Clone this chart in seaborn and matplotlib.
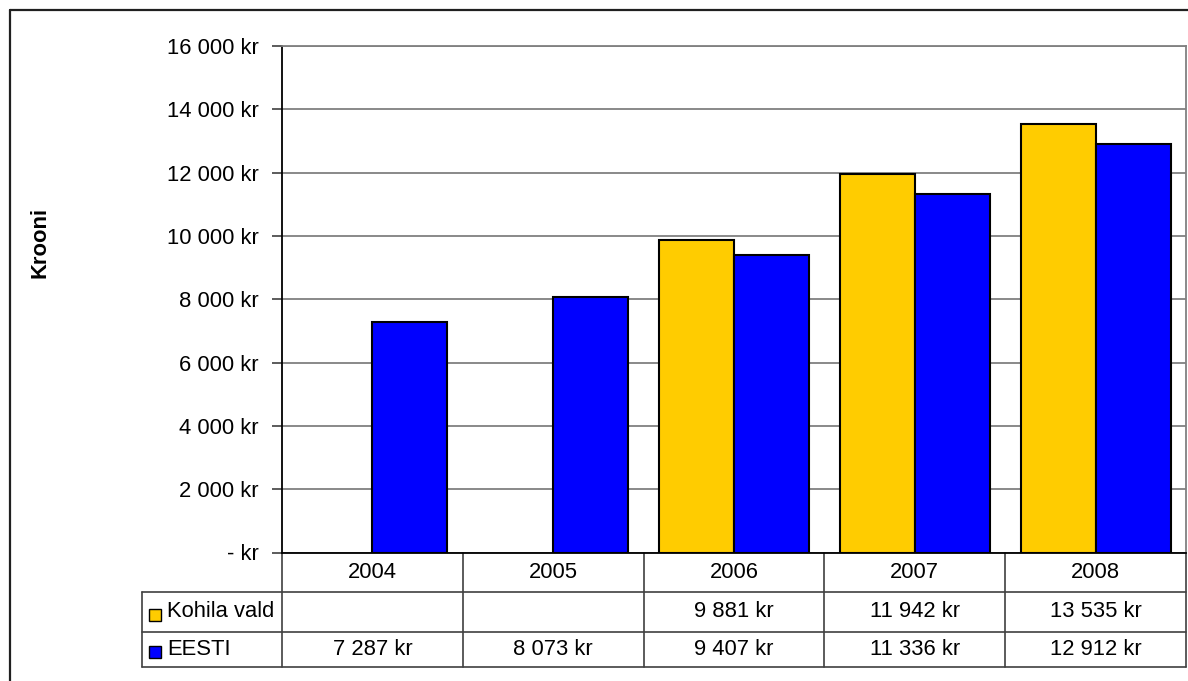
import numpy as np
import pandas as pd
import matplotlib
matplotlib.use('Agg')
import matplotlib.pyplot as plt
from matplotlib.lines import Line2D
from matplotlib.patches import Rectangle
from matplotlib.ticker import FuncFormatter
import seaborn as sns

# andmed
years = ['2004', '2005', '2006', '2007', '2008']
series_names = ['Kohila vald', 'EESTI']
kohila = [np.nan, np.nan, 9881, 11942, 13535]
eesti = [7287, 8073, 9407, 11336, 12912]
colors = ['#FFCC00', '#0000FF']
y_ticks = [0, 2000, 4000, 6000, 8000, 10000, 12000, 14000, 16000]

W, H = 1188, 681


def kr(v):
    if v == 0:
        return '- kr'
    return f"{int(round(v)):,}".replace(',', ' ') + ' kr'


def fx(x):
    return x / W


def fy(y):
    return 1 - y / H


sns.set_style('white')
plt.rcParams['font.family'] = ['Liberation Sans', 'DejaVu Sans']
plt.rcParams['text.color'] = 'black'
plt.rcParams['ytick.labelcolor'] = 'black'
FS = 15.8

df = pd.DataFrame({
    'year': years * 2,
    'value': kohila + eesti,
    'series': [series_names[0]] * 5 + [series_names[1]] * 5,
})

fig = plt.figure(figsize=(W / 100, H / 100), dpi=100)
ax = fig.add_axes([fx(282), fy(552.5), (1186 - 282) / W, (552.5 - 46) / H])

sns.barplot(data=df, x='year', y='value', hue='series', order=years,
            hue_order=series_names, palette=colors, saturation=1, width=0.83,
            edgecolor='black', linewidth=1.5, errorbar=None, legend=False, ax=ax)

ax.set_xlim(-0.5, 4.5)
ax.set_ylim(0, 16000)
ax.set_yticks(y_ticks)
ax.yaxis.set_major_formatter(FuncFormatter(lambda v, p: kr(v)))
ax.set_xticks([])
ax.set_xlabel('')
ax.set_ylabel('')
ax.yaxis.grid(True, color='#808080', linewidth=1.3)
ax.set_axisbelow(True)
ax.tick_params(axis='y', direction='out', length=7, width=1.2, color='#404040',
               pad=10, labelsize=FS, labelcolor='black', left=True)
for side in ['top', 'right']:
    ax.spines[side].set_color('#808080')
    ax.spines[side].set_linewidth(1.3)
for side in ['left', 'bottom']:
    ax.spines[side].set_color('black')
    ax.spines[side].set_linewidth(1.3)

fig.text(fx(40), fy(242), 'Krooni', rotation=90, ha='center', va='center',
         fontsize=FS, fontweight='bold')

# andmetabel telje all
tr = ax.get_xaxis_transform()
hdr_b = -(591.7 - 552.5) / 506.5
row_b = -(631.7 - 552.5) / 506.5
tab_b = -(666.7 - 552.5) / 506.5
left_x = -0.5 - (282 - 141.7) / 180.8
lc = '#404040'
lw = 1.2

for i in range(len(years) + 1):
    ax.plot([i - 0.5, i - 0.5], [0, tab_b], color=lc, lw=lw, transform=tr, clip_on=False)
ax.plot([left_x, left_x], [hdr_b, tab_b], color=lc, lw=lw, transform=tr, clip_on=False)
for yy in [hdr_b, row_b, tab_b]:
    ax.plot([left_x, 4.5], [yy, yy], color=lc, lw=lw, transform=tr, clip_on=False)

hdr_mid = hdr_b / 2
row_mids = [(hdr_b + row_b) / 2, (row_b + tab_b) / 2]
for i, yr in enumerate(years):
    ax.text(i, hdr_mid, yr, ha='center', va='center', fontsize=FS, transform=tr)
for vals, ym in zip([kohila, eesti], row_mids):
    for i, v in enumerate(vals):
        if not np.isnan(v):
            ax.text(i, ym, kr(v), ha='center', va='center', fontsize=FS, transform=tr)

for name, col, ym_px in zip(series_names, colors, [611.7, 649.2]):
    fig.add_artist(Rectangle((fx(148.5), fy(ym_px + 9)), 12 / W, 12 / H,
                             facecolor=col, edgecolor='black', lw=1.0,
                             transform=fig.transFigure))
    fig.text(fx(167), fy(ym_px), name, ha='left', va='center', fontsize=FS)

# välimine raam
fig.add_artist(Line2D([fx(10), fx(10)], [fy(10), 0], color='#202020', lw=1.6,
                      transform=fig.transFigure))
fig.add_artist(Line2D([fx(10), 1], [fy(10), fy(10)], color='#202020', lw=1.6,
                      transform=fig.transFigure))

fig.savefig('out.png', dpi=100)
